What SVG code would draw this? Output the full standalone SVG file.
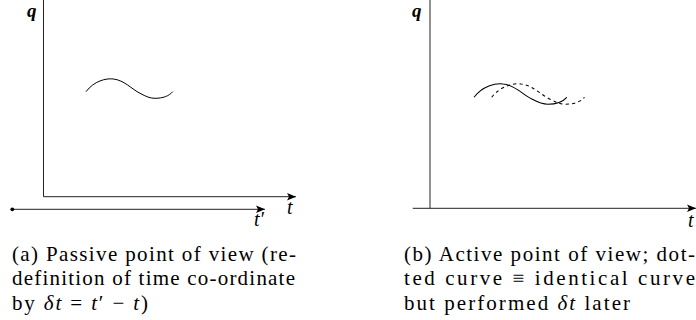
<svg xmlns="http://www.w3.org/2000/svg" xmlns:xlink="http://www.w3.org/1999/xlink" width="696" height="320" viewBox="0 0 696 320">
<style>
.axis{stroke:#222;stroke-width:1;fill:none}
.curve{stroke:#000;stroke-width:1;fill:none}
.dashed{stroke-dasharray:3 3}
.lbl{font-family:"Liberation Serif","DejaVu Serif",serif;font-style:italic;font-size:20px;fill:#000}
.q{font-weight:bold;font-size:19px}
.cap{font-family:"Liberation Serif","DejaVu Serif",serif;font-size:21px;fill:#000}
.m{font-style:italic}
</style>
<defs>
<marker id="arr" markerWidth="12" markerHeight="10" refX="10" refY="5" orient="auto" markerUnits="userSpaceOnUse">
<path d="M10,5 L1,1.2 L3,5 L1,8.8 Z" fill="#000"/>
</marker>
<path id="wave" d="M0,0 C8,-10.7 20,-13.7 27.3,-12.7 C38,-11.7 46,-2.4 54,1.6 C60,4.8 64,6.6 69,6.6 C77,6.6 83,4.3 86.7,0"/>
</defs>
<g id="connectors">
<line class="axis" x1="43.5" y1="0" x2="43.5" y2="196.7"/>
<line class="axis" x1="43.5" y1="196.7" x2="296" y2="196.7" marker-end="url(#arr)"/>
<line class="axis" x1="12.3" y1="209.3" x2="265" y2="209.3" marker-end="url(#arr)"/>
<line class="axis" x1="430" y1="0" x2="430" y2="208.3"/>
<line class="axis" x1="412.7" y1="208.3" x2="696" y2="208.3" marker-end="url(#arr)"/>
</g>
<g id="passive-plot">
<circle cx="12.3" cy="209.3" r="1.9" fill="#000"/>
<use xlink:href="#wave" href="#wave" class="curve" transform="translate(86,91.7)"/>
<text class="lbl q" x="27" y="17">q</text>
<text class="lbl" x="287" y="213.5">t</text>
<text class="lbl" x="254" y="225.5">t′</text>
</g>
<g id="active-plot">
<use xlink:href="#wave" href="#wave" class="curve" transform="translate(474,97.3) scale(1.07,1.05)"/>
<use xlink:href="#wave" href="#wave" class="curve dashed" transform="translate(491.7,97.3) scale(1.07,1.05)"/>
<text class="lbl q" x="412" y="17">q</text>
<text class="lbl" x="688" y="226.5">t</text>
</g>
<g id="caption-a">
<text class="cap" x="12" y="260.5" textLength="284" lengthAdjust="spacing">(a) Passive point of view (re-</text>
<text class="cap" x="12" y="285" textLength="283" lengthAdjust="spacing">definition of time co-ordinate</text>
<text class="cap" x="12" y="309.5" textLength="136" lengthAdjust="spacing">by <tspan class="m">δt</tspan> = <tspan class="m">t</tspan>′ − <tspan class="m">t</tspan>)</text>
</g>
<g id="caption-b">
<text class="cap" x="404" y="260.5" textLength="291" lengthAdjust="spacing">(b) Active point of view; dot-</text>
<text class="cap" x="404" y="285" textLength="291" lengthAdjust="spacing">ted curve ≡ identical curve</text>
<text class="cap" x="404" y="309.5" textLength="226" lengthAdjust="spacing">but performed <tspan class="m">δt</tspan> later</text>
</g>
</svg>
